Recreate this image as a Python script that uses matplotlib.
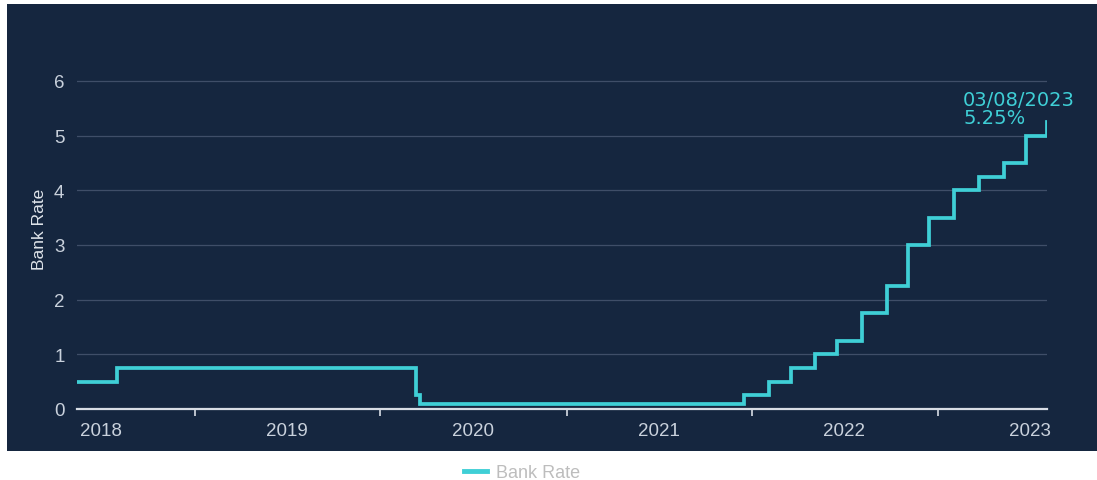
import matplotlib.pyplot as plt
import matplotlib.patches as mpatches
import matplotlib.dates as mdates
import pandas as pd

# Bank of England Bank Rate changes (date the rate took effect, new rate %)
change_dates = ["2018-05-15", "2018-08-02", "2020-03-11", "2020-03-19", "2021-12-16",
                "2022-02-03", "2022-03-17", "2022-05-05", "2022-06-16", "2022-08-04",
                "2022-09-22", "2022-11-03", "2022-12-15", "2023-02-02", "2023-03-23",
                "2023-05-11", "2023-06-22", "2023-08-03"]
rates = [0.5, 0.75, 0.25, 0.1, 0.25, 0.5, 0.75, 1.0, 1.25, 1.75,
         2.25, 3.0, 3.5, 4.0, 4.25, 4.5, 5.0, 5.25]
year_labels = ["2018", "2019", "2020", "2021", "2022", "2023"]
y_ticks = [0, 1, 2, 3, 4, 5, 6]

navy = "#15263f"
cyan = "#3fcfd6"
light = "#c9d1dc"

dates = pd.to_datetime(change_dates)

fig = plt.figure(figsize=(10.97, 4.81), dpi=100, facecolor="white")
# dark panel behind the chart
fig.patches.append(mpatches.Rectangle((7 / 1097, 1 - 452 / 481), 1 - 7 / 1097, (452 - 5) / 481,
                                      transform=fig.transFigure, facecolor=navy,
                                      edgecolor="none", zorder=-5))

ax = fig.add_axes([77 / 1097, 1 - 410 / 481, (1047 - 77) / 1097, (410 - 49) / 481])
ax.set_zorder(2)
ax.set_facecolor("none")
ax.step(dates, rates, where="post", color=cyan, lw=2.7, solid_joinstyle="miter", zorder=3)

ax.set_xlim(dates[0], dates[-1])
ax.set_ylim(0, 6.6)

for s in ["top", "right", "left"]:
    ax.spines[s].set_visible(False)
ax.spines["bottom"].set_color("#d8dde5")
ax.spines["bottom"].set_linewidth(1.6)

ax.set_yticks(y_ticks[1:])
ax.set_yticks([0], minor=True)
ax.yaxis.grid(True, color="#3f4e68", lw=0.9)
ax.tick_params(axis="y", which="both", length=0, pad=9, labelsize=13.5, labelcolor=light)
ax.set_yticklabels([str(v) for v in y_ticks[1:]], fontfamily="Liberation Sans")
ax.set_yticklabels(["0"], minor=True, fontfamily="Liberation Sans")

# ticks at year boundaries, labels mid-year
ax.set_xticks(pd.to_datetime([f"{y}-01-01" for y in year_labels[1:]]))
ax.set_xticklabels([])
ax.set_xticks(pd.to_datetime([f"{y}-07-01" for y in year_labels]), minor=True)
ax.set_xticklabels(year_labels, minor=True, fontfamily="Liberation Sans")
ax.tick_params(axis="x", which="major", length=5, width=1.2, color="#d8dde5")
ax.tick_params(axis="x", which="minor", length=0, pad=9, labelsize=13.5, labelcolor=light)

ax.set_ylabel("Bank Rate", color="#dfe4ea", fontsize=12.5, fontfamily="Liberation Sans", labelpad=5)

ax.text(mdates.date2num(pd.Timestamp("2023-02-19")), 5.15, "03/08/2023\n5.25%",
        color=cyan, fontsize=14, fontfamily="DejaVu Sans", linespacing=0.95,
        ha="left", va="bottom", clip_on=False)

leg = fig.legend(["Bank Rate"], loc="center", bbox_to_anchor=(522 / 1097, 1 - 474 / 481),
                 frameon=False, handlelength=1.3, handletextpad=0.5, borderpad=0,
                 prop={"family": "Liberation Sans", "size": 13})
for t in leg.get_texts():
    t.set_color("#bdbdbd")
for h in leg.get_lines():
    h.set_linewidth(3.5)

fig.savefig("out.png", dpi=100, facecolor="white")
